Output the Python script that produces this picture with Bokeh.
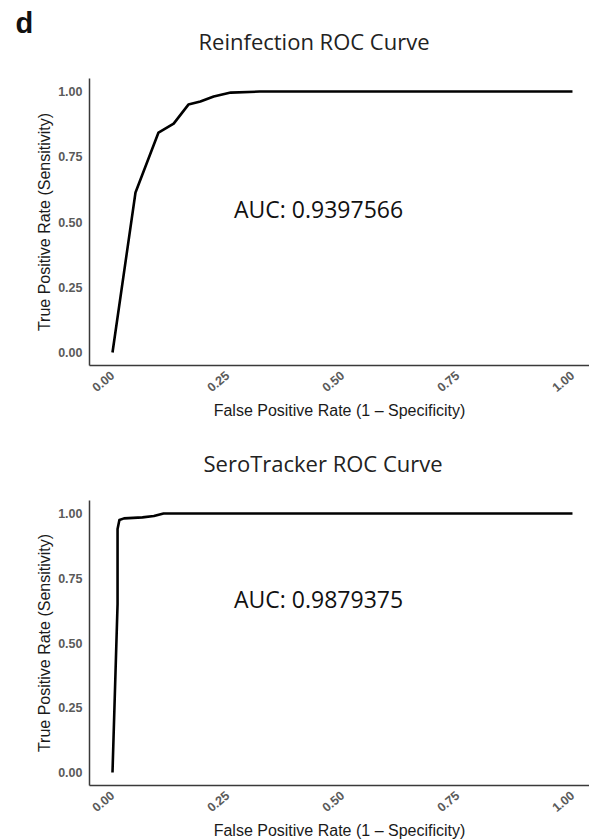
import math
from bokeh.plotting import figure
from bokeh.models import Range1d, FixedTicker, Title, Label
from bokeh.layouts import column
from bokeh.embed import file_html
from bokeh.resources import INLINE

# ---- data ----
reinf_fpr = [0.0, 0.05, 0.10, 0.133, 0.165, 0.191, 0.22, 0.257, 0.32, 1.0]
reinf_tpr = [0.0, 0.613, 0.843, 0.877, 0.950, 0.962, 0.981, 0.996, 1.0, 1.0]
sero_fpr = [0.0, 0.011, 0.011, 0.015, 0.025, 0.065, 0.09, 0.111, 1.0]
sero_tpr = [0.0, 0.65, 0.94, 0.975, 0.981, 0.985, 0.99, 1.0, 1.0]
tick_values = [0.0, 0.25, 0.5, 0.75, 1.0]
tick_labels = ["0.00", "0.25", "0.50", "0.75", "1.00"]
titles = ["Reinfection ROC Curve", "SeroTracker ROC Curve"]
auc_texts = ["AUC: 0.9397566", "AUC: 0.9879375"]
x_label = "False Positive Rate (1 \u2013 Specificity)"
y_label = "True Positive Rate (Sensitivity)"
panel_letter = "d"


def make_panel(fpr, tpr, title, title_offset, title_standoff, auc_text, auc_y,
               top_border, frame_h, bottom_border, letter=None):
    p = figure(
        x_range=Range1d(-0.05, 1.037), y_range=Range1d(-0.05, 1.05),
        frame_width=500, frame_height=frame_h,
        min_border_left=89, min_border_right=0,
        min_border_top=top_border, min_border_bottom=bottom_border,
        output_backend="svg", toolbar_location=None,
        background_fill_color="white", border_fill_color="white",
    )
    p.outline_line_color = None
    p.grid.visible = False
    overrides = dict(zip(tick_values, tick_labels))
    for ax in (p.xaxis, p.yaxis):
        ax.ticker = FixedTicker(ticks=tick_values)
        ax.major_label_overrides = overrides
        ax.axis_line_color = "#3a3a3a"
        ax.axis_line_width = 1.5
        ax.major_tick_line_color = None
        ax.major_tick_out = 0
        ax.major_tick_in = 0
        ax.minor_tick_line_color = None
        ax.minor_tick_out = 0
        ax.major_label_text_font = "Liberation Sans"
        ax.major_label_text_font_style = "bold"
        ax.major_label_text_font_size = "12.5px"
        ax.major_label_text_color = "#5a5a5a"
        ax.axis_label_text_font = "Liberation Sans"
        ax.axis_label_text_font_style = "normal"
        ax.axis_label_text_font_size = "16px"
        ax.axis_label_text_color = "#1a1a1a"
    p.xaxis.axis_label = x_label
    p.yaxis.axis_label = y_label
    p.xaxis.major_label_orientation = 0.7
    p.xaxis.major_label_standoff = 8
    p.xaxis.axis_label_standoff = 3
    p.yaxis.major_label_standoff = 7
    p.yaxis.axis_label_standoff = 2

    p.line(fpr, tpr, line_color="black", line_width=2.6, line_join="round")

    p.add_layout(Title(text=title, align="left", offset=title_offset,
                       standoff=title_standoff, text_font="Open Sans",
                       text_font_size="22px", text_font_style="normal",
                       text_color="#222222"), "above")
    if letter:
        p.add_layout(Title(text=letter, align="left", offset=-74, standoff=-75,
                           text_font="Liberation Sans", text_font_size="29px",
                           text_font_style="bold", text_color="#111111"), "above")
    p.add_layout(Label(x=0.448, y=auc_y, text=auc_text, text_align="center",
                       text_baseline="middle", text_font="Open Sans",
                       text_font_size="23px", text_color="#111111"))
    return p


p1 = make_panel(reinf_fpr, reinf_tpr, titles[0], 109, 45, auc_texts[0], 0.548,
                78, 287, 55, letter=panel_letter)
p2 = make_panel(sero_fpr, sero_tpr, titles[1], 114, 45, auc_texts[1], 0.668,
                78, 285, 55)

layout = column(p1, p2, spacing=0)
open("out.html", "w").write(file_html(layout, INLINE))
